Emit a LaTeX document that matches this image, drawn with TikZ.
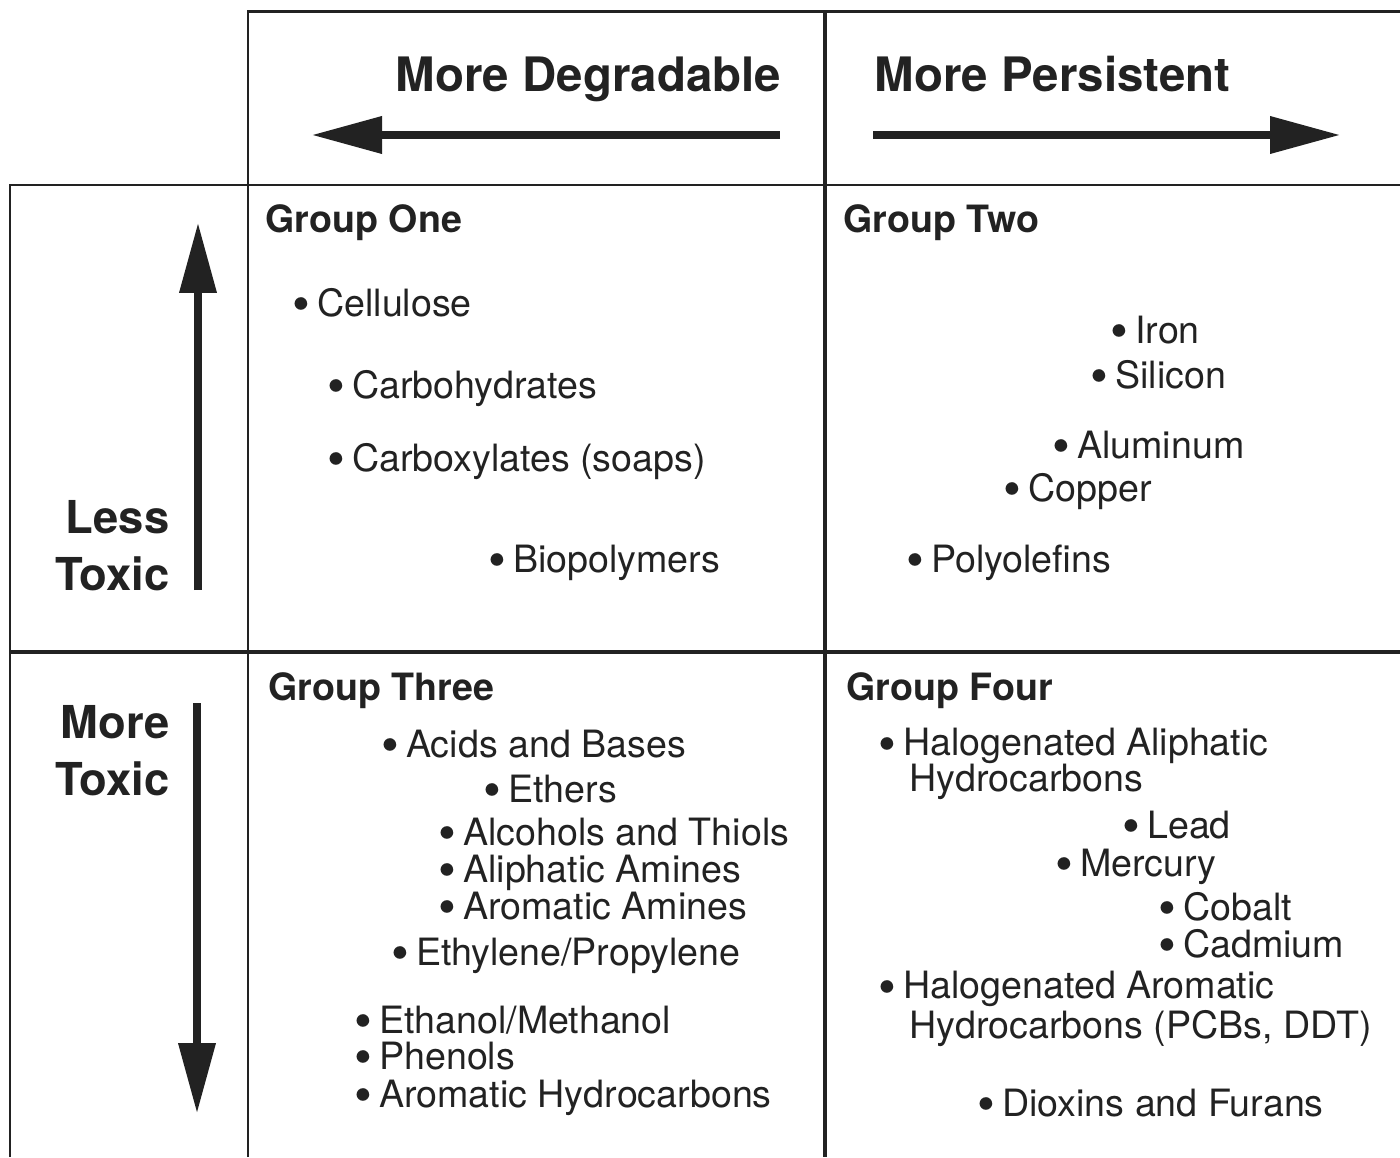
\documentclass[tikz,border=0pt]{standalone}
\usepackage{fontspec}
\setmainfont{TeX Gyre Heros}
\usetikzlibrary{arrows.meta}
\definecolor{ink}{RGB}{34,34,34}
\tikzset {
    thin rule/.style = {draw = ink, line width = 0.85pt},
    thick rule/.style = {draw = ink, line width = 1.4pt},
    big arrow/.style = {
        draw = ink, line width = 2pt,
        arrows = {-Triangle[length = 7mm 0 0, width = 3.6mm 0 0]}
    },
    heading/.style = {
        anchor = base west, inner sep = 0pt, text = ink,
        font = \fontsize{13.5pt}{16pt}\selectfont\bfseries
    },
    side label/.style = {
        anchor = base east, align = right, inner sep = 0pt, text = ink,
        font = \fontsize{12.9pt}{16.2pt}\selectfont\bfseries
    },
    group title/.style = {
        anchor = base west, inner sep = 0pt, text = ink,
        font = \fontsize{10.7pt}{12pt}\selectfont\bfseries
    },
    item/.style = {
        anchor = base west, align = left, inner sep = 0pt, text = ink,
        font = \fontsize{10.7pt}{10.2pt}\selectfont
    }
}
\newcommand{\itmdot}{\smash{\raisebox{-0.3ex}{\scalebox{1.35}{\textbullet}}}\hspace{0.18em}}
\newcommand{\itm}[1]{\itmdot #1}
\newcommand{\itmpad}{\phantom{\itmdot}}

\begin{document}
\begin{tikzpicture}[x = 0.1mm, y = -0.1mm]
    \useasboundingbox (0, 0) rectangle (1400, 1157);
    % grid
    \draw [thin rule] (248, 1157) -- (248, 12) -- (1400, 12);
    \draw [thin rule] (10, 1157) -- (10, 185) -- (1400, 185);
    \draw [thick rule] (825, 12) -- (825, 1157);
    \draw [thick rule] (10, 652) -- (1400, 652);
    % headings
    \node (degr) [heading] at (395, 92) {More Degradable};
    \node (pers) [heading] at (874, 92) {More Persistent};
    \coordinate (degrS) at (780, 135);
    \coordinate (degrE) at (312, 135);
    \coordinate (persS) at (873, 135);
    \coordinate (persE) at (1340, 135);
    \draw [big arrow] (degrS) -- (degrE);
    \draw [big arrow] (persS) -- (persE);
    \node (less) [side label] at (170, 590) {Less\\Toxic};
    \node (more) [side label] at (170, 795) {More\\Toxic};
    \coordinate (lessS) at (198, 590);
    \coordinate (lessE) at (198, 223);
    \coordinate (moreS) at (197, 703);
    \coordinate (moreE) at (197, 1113);
    \draw [big arrow] (lessS) -- (lessE);
    \draw [big arrow] (moreS) -- (moreE);
    % group one
    \node (g1) [group title] at (265, 233) {Group One};
    \node (g1a) [item] at (292, 316) {\itm{Cellulose}};
    \node (g1b) [item] at (327, 398) {\itm{Carbohydrates}};
    \node (g1c) [item] at (327, 471) {\itm{Carboxylates (soaps)}};
    \node (g1d) [item] at (488, 572) {\itm{Biopolymers}};
    % group two
    \node (g2) [group title] at (843, 233) {Group Two};
    \node (g2a) [item] at (1110, 343) {\itm{Iron}};
    \node (g2b) [item] at (1090, 388) {\itm{Silicon}};
    \node (g2c) [item] at (1052, 458) {\itm{Aluminum}};
    \node (g2d) [item] at (1003, 501) {\itm{Copper}};
    \node (g2e) [item] at (906, 572) {\itm{Polyolefins}};
    % group three
    \node (g3) [group title] at (268, 700) {Group Three};
    \node (g3a) [item] at (381, 757) {\itm{Acids and Bases}};
    \node (g3b) [item] at (483, 802) {\itm{Ethers}};
    \node (g3c) [item] at (438, 845) {\itm{Alcohols and Thiols}};
    \node (g3d) [item] at (438, 882) {\itm{Aliphatic Amines}};
    \node (g3e) [item] at (438, 919) {\itm{Aromatic Amines}};
    \node (g3f) [item] at (391, 965) {\itm{Ethylene/Propylene}};
    \node (g3g) [item] at (354, 1033) {\itm{Ethanol/Methanol}};
    \node (g3h) [item] at (354, 1069) {\itm{Phenols}};
    \node (g3i) [item] at (354, 1107) {\itm{Aromatic Hydrocarbons}};
    % group four (multi-line nodes sit on their last baseline)
    \node (g4) [group title] at (846, 700) {Group Four};
    \node (g4a) [item] at (878, 791)
        {\itm{Halogenated Aliphatic}\\\itmpad\,Hydrocarbons};
    \node (g4b) [item] at (1122, 838) {\itm{Lead}};
    \node (g4c) [item] at (1055, 876) {\itm{Mercury}};
    \node (g4d) [item] at (1158, 920) {\itm{Cobalt}};
    \node (g4e) [item] at (1158, 957) {\itm{Cadmium}};
    \node (g4f) [item] at (878, 1038)
        {\itm{Halogenated Aromatic}\\\itmpad\,Hydrocarbons (PCBs, DDT)};
    \node (g4g) [item] at (977, 1116) {\itm{Dioxins and Furans}};
\end{tikzpicture}
\end{document}
